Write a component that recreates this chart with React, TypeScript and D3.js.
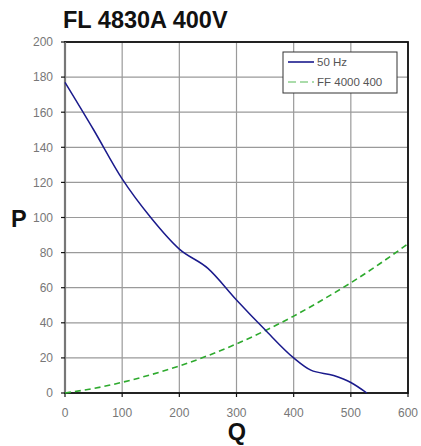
import React from "react";
import * as d3 from "d3";

const xTicks = [0, 100, 200, 300, 400, 500, 600];
const yTicks = [0, 20, 40, 60, 80, 100, 120, 140, 160, 180, 200];
const blueQ = [0, 50, 100, 150, 200, 250, 300, 350, 400, 430, 470, 500, 528];
const blueP = [177, 150, 122, 100, 82, 71, 53, 36, 20, 13, 10, 6, 0];
const greenQ = [0, 50, 100, 150, 200, 250, 300, 350, 400, 450, 500, 550, 600];
const greenP = [0, 2.6, 6.1, 10.4, 15.4, 21.3, 28, 35.5, 43.8, 53, 62.8, 73.5, 85];
const seriesNames = ["50 Hz", "FF 4000 400"];

export default function App() {
  const W = 421, H = 446;
  const L = 65, R = 408, T = 42, B = 393;
  const x = d3.scaleLinear().domain([0, 600]).range([L, R]);
  const y = d3.scaleLinear().domain([0, 200]).range([B, T]);
  const line = d3
    .line<[number, number]>()
    .x((d) => x(d[0]))
    .y((d) => y(d[1]))
    .curve(d3.curveMonotoneX);
  const blue = blueQ.map((q, i) => [q, blueP[i]] as [number, number]);
  const green = greenQ.map((q, i) => [q, greenP[i]] as [number, number]);
  const font = "Liberation Sans, Arial, sans-serif";
  return (
    <svg
      width={W}
      height={H}
      style={{ position: "absolute", left: 0, top: 0, background: "#fff" }}
      fontFamily={font}
    >
      <text x={63} y={28} fontSize={23.5} fontWeight="bold" fill="#111">
        FL 4830A 400V
      </text>
      {xTicks.map((t) => (
        <line key={"gx" + t} x1={x(t)} x2={x(t)} y1={T} y2={B} stroke="#9a9a9a" strokeWidth={1.2} />
      ))}
      {yTicks.map((t) => (
        <line key={"gy" + t} x1={L} x2={R} y1={y(t)} y2={y(t)} stroke="#9a9a9a" strokeWidth={1.2} />
      ))}
      <rect x={L} y={T} width={R - L} height={B - T} fill="none" stroke="#111" strokeWidth={1.8} />
      <line x1={L} x2={L} y1={T} y2={B} stroke="#777" strokeWidth={2.2} />
      {yTicks.map((t) => (
        <g key={"ty" + t}>
          <line x1={L - 4} x2={L} y1={y(t)} y2={y(t)} stroke="#111" strokeWidth={1.2} />
          <text x={53} y={y(t) + 4.3} fontSize={12} fill="#777" textAnchor="end">
            {t}
          </text>
        </g>
      ))}
      {xTicks.map((t) => (
        <g key={"tx" + t}>
          <line x1={x(t)} x2={x(t)} y1={B} y2={B + 4} stroke="#111" strokeWidth={1.2} />
          <text x={x(t)} y={417} fontSize={12} fill="#777" textAnchor="middle">
            {t}
          </text>
        </g>
      ))}
      <path d={line(green) || ""} fill="none" stroke="#2eaa2e" strokeWidth={1.6} strokeDasharray="6,4" />
      <path d={line(blue) || ""} fill="none" stroke="#1a1a8c" strokeWidth={1.5} />
      <text x={11} y={227} fontSize={23.5} fontWeight="bold" fill="#111">
        P
      </text>
      <text x={237} y={440} fontSize={23.5} fontWeight="bold" fill="#111" textAnchor="middle">
        Q
      </text>
      <g>
        <rect x={283} y={52} width={114} height={41} fill="#fff" stroke="#333" strokeWidth={1} />
        <line x1={288} x2={314} y1={62} y2={62} stroke="#1a1a8c" strokeWidth={1.6} />
        <text x={317} y={66} fontSize={11.5} fill="#555">
          {seriesNames[0]}
        </text>
        <line x1={288} x2={314} y1={82} y2={82} stroke="#8fd18f" strokeWidth={1.6} strokeDasharray="8,4" />
        <text x={317} y={86} fontSize={11.5} fill="#555">
          {seriesNames[1]}
        </text>
      </g>
    </svg>
  );
}
